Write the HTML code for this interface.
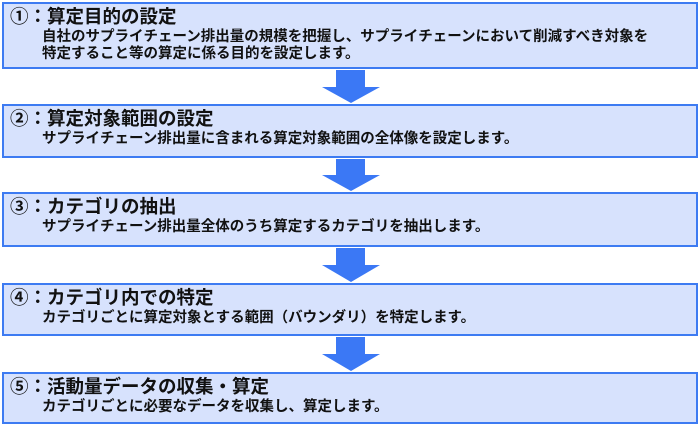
<!DOCTYPE html>
<html><head><meta charset="utf-8"><style>
body{margin:0;width:700px;height:425px;background:#fff;position:relative;font-family:"Liberation Sans","Noto Sans CJK JP",sans-serif;overflow:hidden}
.b{position:absolute;left:2px;width:692px;background:#d7e2fd;border:2px solid #3d7bf2;box-sizing:content-box}
.t{position:absolute;left:6px;top:1px;font-size:18.5px;font-weight:bold;color:#111;white-space:nowrap;line-height:24px}
.d{position:absolute;left:38px;top:25px;font-size:14.5px;font-weight:bold;color:#111;line-height:17px;white-space:nowrap}
svg{position:absolute;left:0;top:0}
</style></head><body>
<svg width="700" height="425">
<g fill="#3b78f5">
<polygon points="336,70 365,70 365,87 380,87 351,103 322,87 336,87"/>
<polygon points="336,159 365,159 365,175 380,175 351,191 322,175 336,175"/>
<polygon points="336,248 365,248 365,265 380,265 351,282 322,265 336,265"/>
<polygon points="336,337 365,337 365,354 380,354 351,371 322,354 336,354"/>
</g></svg>
<div class="b" style="top:2px;height:63px"><div class="t">①：算定目的の設定</div><div class="d">自社のサプライチェーン排出量の規模を把握し、サプライチェーンにおいて削減すべき対象を<br>特定すること等の算定に係る目的を設定します。</div></div>
<div class="b" style="top:104px;height:50px"><div class="t">②：算定対象範囲の設定</div><div class="d">サプライチェーン排出量に含まれる算定対象範囲の全体像を設定します。</div></div>
<div class="b" style="top:192px;height:51px"><div class="t">③：カテゴリの抽出</div><div class="d">サプライチェーン排出量全体のうち算定するカテゴリを抽出します。</div></div>
<div class="b" style="top:283px;height:49px"><div class="t">④：カテゴリ内での特定</div><div class="d">カテゴリごとに算定対象とする範囲（バウンダリ）を特定します。</div></div>
<div class="b" style="top:372px;height:48px"><div class="t">⑤：活動量データの収集・算定</div><div class="d">カテゴリごとに必要なデータを収集し、算定します。</div></div>
</body></html>
